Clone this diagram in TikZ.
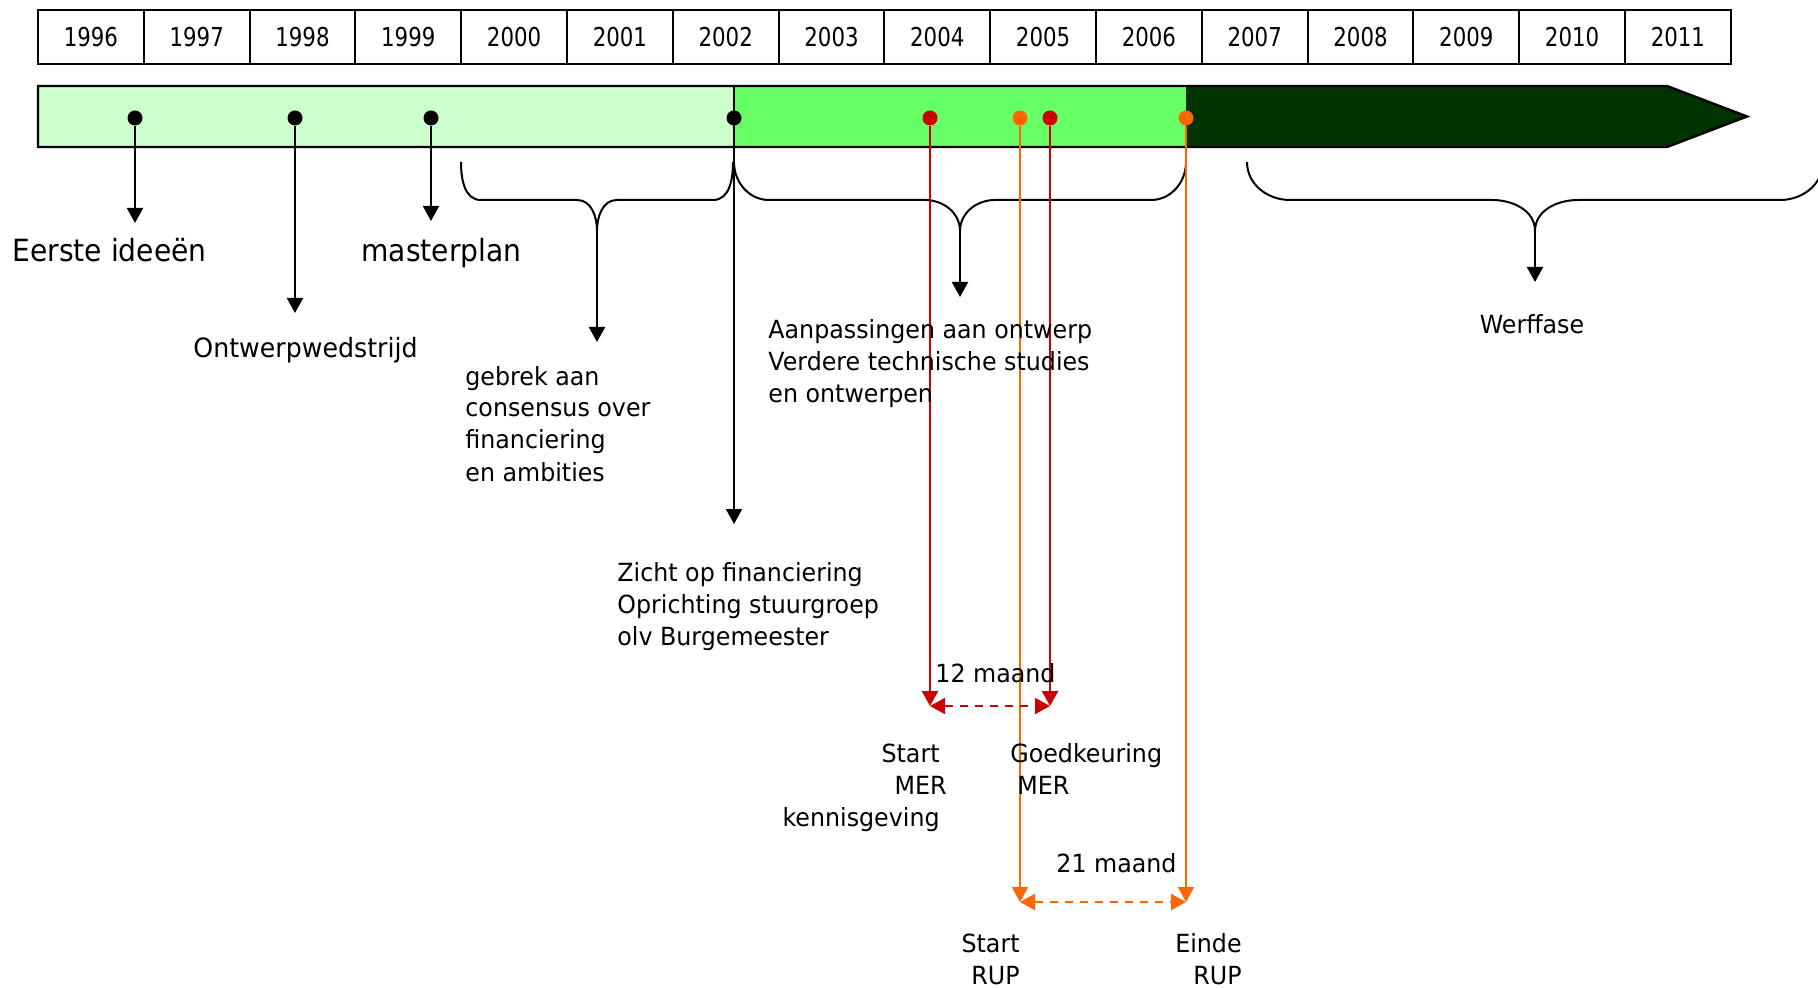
\documentclass[tikz,border=0pt]{standalone}
\usepackage{fontspec}
\setmainfont{DejaVu Sans}[FakeStretch=0.95]
\newfontfamily\jaarfont{DejaVu Sans}[FakeStretch=0.82]
\newfontfamily\grootfont{DejaVu Sans}[FakeStretch=0.92]
\usepackage{tikz}
\usetikzlibrary{arrows.meta}
\definecolor{lichtgroen}{RGB}{204,255,204}
\definecolor{middengroen}{RGB}{102,255,102}
\definecolor{donkergroen}{RGB}{0,51,0}
\definecolor{rood}{RGB}{204,0,0}
\definecolor{oranje}{RGB}{255,102,0}
\tikzset{>={Triangle[width=8pt,length=7.5pt]}}
\tikzset{
  jaarvak/.style={draw, line width=1pt, minimum width=52.9pt, minimum height=27pt,
    inner sep=0pt, font=\jaarfont\fontsize{13}{15}\selectfont},
  stip/.style={circle, fill=#1, inner sep=0pt, minimum size=7.5pt},
  pijl/.style={->, line width=1pt, draw=#1},
  pijl/.default=black,
  duur/.style={<->, line width=1pt, draw=#1, dash pattern=on 4pt off 3.5pt},
  tekst/.style={inner sep=0pt, align=left, font=\fontsize{12.5}{16}\selectfont},
  groot/.style={inner sep=0pt, font=\grootfont\fontsize{15.3}{18}\selectfont},
  klamp/.style={line width=1pt}
}

\begin{document}
\begin{tikzpicture}[x=0.5pt,y=-0.5pt]
    \clip (0,0) rectangle (1818,988);
    % jaren
    \foreach \jaar [count=\i from 0] in {1996,1997,...,2011}
        \node[jaarvak] (jaar\jaar) at (38+105.8*\i+52.9,37) {\jaar};
    % balk
    \fill[lichtgroen] (38,86) rectangle (734,147);
    \fill[middengroen] (734,86) rectangle (1186,147);
    \fill[donkergroen] (1186,86) -- (1667,86) -- (1747,116.5) -- (1667,147) -- (1186,147) -- cycle;
    \draw[line width=1.2pt] (38,86) -- (1667,86) -- (1747,116.5) -- (1667,147) -- (38,147) -- cycle;
    \draw[line width=1pt] (734,86) -- (734,147);
    % stippen
    \node[stip=black] (idee) at (135,118) {};
    \node[stip=black] (wedstrijd) at (295,118) {};
    \node[stip=black] (master) at (431,118) {};
    \node[stip=black] (zicht) at (734,118) {};
    \node[stip=rood] (startmer) at (930,118) {};
    \node[stip=oranje] (startrup) at (1020,118) {};
    \node[stip=rood] (goedmer) at (1050,118) {};
    \node[stip=oranje] (eindrup) at (1186,118) {};
    % klampen
    \draw[klamp] (461,162) to[out=-90,in=180] (481,200) -- (577,200) to[out=0,in=90] (597,231)
        to[out=90,in=180] (617,200) -- (713,200) to[out=0,in=-90] (733,162);
    \draw[klamp] (734,162) to[out=-90,in=180] (769,200) -- (925,200) to[out=0,in=90] (960,231)
        to[out=90,in=180] (995,200) -- (1151,200) to[out=0,in=-90] (1186,162);
    \draw[klamp] (1247,162) to[out=-90,in=180] (1290,200) -- (1492,200) to[out=0,in=90] (1535,231)
        to[out=90,in=180] (1578,200) -- (1780,200) to[out=0,in=-90] (1823,162);
    \coordinate (gebrek-top) at (597,231);
    \coordinate (aanpas-top) at (960,231);
    \coordinate (werf-top) at (1535,231);
    % eindpunten
    \coordinate (idee-eind) at (135,223);
    \coordinate (wedstrijd-eind) at (295,313);
    \coordinate (master-eind) at (431,221);
    \coordinate (zicht-eind) at (734,524);
    \coordinate (gebrek-eind) at (597,342);
    \coordinate (aanpas-eind) at (960,297);
    \coordinate (werf-eind) at (1535,282);
    \coordinate (startmer-eind) at (930,706);
    \coordinate (goedmer-eind) at (1050,706);
    \coordinate (startrup-eind) at (1020,902);
    \coordinate (eindrup-eind) at (1186,902);
    % pijlen
    \draw[pijl] (idee) -- (idee-eind);
    \draw[pijl] (wedstrijd) -- (wedstrijd-eind);
    \draw[pijl] (master) -- (master-eind);
    \draw[pijl] (zicht) -- (zicht-eind);
    \draw[pijl] (gebrek-top) -- (gebrek-eind);
    \draw[pijl] (aanpas-top) -- (aanpas-eind);
    \draw[pijl] (werf-top) -- (werf-eind);
    \draw[pijl=rood, line width=1.2pt] (startmer) -- (startmer-eind);
    \draw[pijl=rood, line width=1.2pt] (goedmer) -- (goedmer-eind);
    \draw[pijl=oranje, line width=0.9pt] (startrup) -- (startrup-eind);
    \draw[pijl=oranje, line width=0.9pt] (eindrup) -- (eindrup-eind);
    \draw[duur=rood] (startmer-eind) -- (goedmer-eind);
    \draw[duur=oranje] (startrup-eind) -- (eindrup-eind);
    % teksten (base = laatste regel)
    \node[groot, anchor=base west] (t-idee) at (12,262) {Eerste ideeën};
    \node[groot, anchor=base west] (t-master) at (361,262) {masterplan};
    \node[tekst, anchor=base west, font=\fontsize{13.3}{16}\selectfont] (t-wedstrijd) at (193,358) {Ontwerpwedstrijd};
    \node[tekst, anchor=base west] (t-gebrek) at (465,481)
        {gebrek aan\\consensus over\\financiering\\en ambities};
    \node[tekst, anchor=base west] (t-aanpas) at (768,403)
        {Aanpassingen aan ontwerp\\Verdere technische studies\\en ontwerpen};
    \node[tekst, anchor=base west] (t-zicht) at (617,645)
        {Zicht op financiering\\Oprichting stuurgroep\\olv Burgemeester};
    \node[tekst, anchor=base] (t-werf) at (1532,334) {Werffase};
    \node[tekst, anchor=base west] (t-12) at (935,682) {12 maand};
    \node[tekst, anchor=base west] (t-21) at (1056,872) {21 maand};
    \node[tekst, align=right, anchor=base east] (t-startmer) at (947,826)
        {Start\kern3.5pt\\MER\\kennisgeving\kern3.5pt};
    \node[tekst, anchor=base west] (t-goedmer) at (1010,794) {Goedkeuring\\\hspace{3.5pt}MER};
    \node[tekst, align=right, anchor=base east] (t-startrup) at (1020,984) {Start\\RUP};
    \node[tekst, align=right, anchor=base east] (t-eindrup) at (1242,984) {Einde\\RUP};
\end{tikzpicture}
\end{document}
